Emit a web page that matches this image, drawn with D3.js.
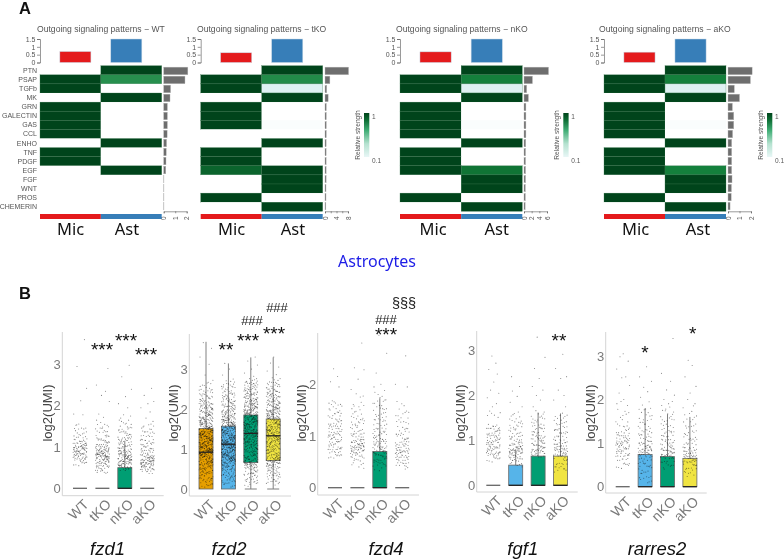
<!DOCTYPE html>
<html>
<head>
<meta charset="utf-8">
<script src="https://d3js.org/d3.v7.min.js"></script>
<style>
  body { margin: 0; background: #fff; }
  svg { display: block; filter: blur(0.3px); }
</style>
</head>
<body>
<svg id="chart" width="784" height="560"></svg>
<script>
// panel A data
var signals = ["PTN","PSAP","TGFb","MK","GRN","GALECTIN","GAS","CCL","ENHO","TNF","PDGF","EGF","FGF","WNT","PROS","CHEMERIN"];
var cellTypes = ["Mic","Ast"];
var conditions = ["WT","tKO","nKO","aKO"];

// relative strength per signal, 0 = nothing drawn
var micWT  = [0,1,1,0,1,1,1,1,0,1,1,0,0,0,0,0];
var astWT  = [1,.78,0,1,0,0,0,0,1,0,0,1,0,0,0,0];
var micTKO = [0,1,1,0,1,1,1,0,0,1,1,.92,0,0,1,0];
var astTKO = [1,.8,.12,1,0,0,.02,0,1,0,0,1,1,1,0,1];
var micNKO = [0,1,1,0,1,1,1,1,0,1,1,1,0,0,1,0];
var astNKO = [1,.85,.12,1,0,0,.02,0,1,0,0,.88,1,1,0,1];
var micAKO = [0,1,1,0,1,1,1,1,0,1,1,1,0,0,1,0];
var astAKO = [1,.85,.12,1,0,0,.02,0,1,0,0,.85,1,1,0,1];

var topWT = [.7,1.5], topTKO = [.62,1.5], topNKO = [.68,1.5], topAKO = [.66,1.5];

var sideWT  = [2.1,1.85,.6,.55,.32,.32,.32,.3,.25,.22,.2,.18,.02,.02,.02,.02];
var sideTKO = [8.2,1.7,.6,1.1,.45,.45,.45,.45,.4,.4,.4,.4,.4,.35,.35,.3];
var sideNKO = [6.4,2.2,.7,1.15,.5,.5,.5,.5,.45,.4,.4,.4,.4,.35,.35,.3];
var sideAKO = [2.1,1.95,.55,1,.38,.5,.5,.4,.32,.32,.32,.32,.35,.3,.28,.18];

var sideTicksWT = [0,1,2], sideTicksTKO = [0,2,4,6,8], sideTicksNKO = [0,2,4,6], sideTicksAKO = [0,1,2];
var sideLabelsWT = [0,1,2], sideLabelsTKO = [0,4,8], sideLabelsNKO = [0,2,4,6], sideLabelsAKO = [0,1,2];
var sideMaxWT = 2, sideMaxTKO = 8, sideMaxNKO = 6, sideMaxAKO = 2;

// panel B data
var genes = ["fzd1","fzd2","fzd4","fgf1","rarres2"];
var q1s = [[0,0,0,0],[0,0,.66,.71],[0,0,0,0],[0,0,0,0],[0,0,0,0]];
var medians = [[0,0,0,0],[.92,1.12,1.39,1.33],[0,0,0,0],[0,0,0,0],[0,0,0,0]];
var q3s = [[0,0,.5,0],[1.51,1.57,1.85,1.75],[0,0,.7,0],[0,.45,.65,.65],[0,.74,.69,.65]];
var whiskers = [[0,0,1.15,0],[3.68,3.14,3.29,3.29],[0,0,1.73,0],[0,.79,1.62,1.6],[0,1.8,1.66,1.6]];

var fzd1WT = [.58,.62,.65,.68,.7,.72,.74,.75,.78,.8,.8,.82,.84,.85,.86,.88,.9,.9,.92,.93,.95,.95,.96,.98,1,1,1.02,1.03,1.05,1.05,1.07,1.1,1.12,1.15,1.18,1.2,1.25,1.3,1.35,1.42,1.48,1.52,1.78,1.8,2.12,2.42,2.95,3.6];
var fzd1TKO = [.4,.42,.45,.48,.5,.52,.55,.56,.58,.6,.62,.63,.65,.66,.68,.7,.7,.72,.73,.75,.75,.76,.78,.78,.8,.8,.8,.82,.82,.83,.85,.85,.86,.88,.88,.9,.9,.92,.93,.95,.95,.98,1,1,1.02,1.05,1.08,1.1,1.12,1.15,1.18,1.2,1.25,1.3,1.35,1.4,1.42,1.5,1.58,1.65,1.72,1.8,2.1,2.25,2.35,2.5,2.9];
var fzd1NKO = [.46,.48,.5,.52,.54,.55,.57,.58,.6,.6,.62,.63,.65,.65,.67,.68,.7,.7,.72,.72,.74,.75,.75,.77,.78,.8,.8,.82,.83,.85,.85,.87,.88,.9,.92,.95,.95,.98,1,1.02,1.05,1.08,1.1,1.12,1.15,1.18,1.2,1.22,1.25,1.28,1.3,1.35,1.38,1.42,1.45,1.5,1.55,1.6,1.65,1.7,1.75,1.78,1.95,2.05,2.22,2.4,2.7,2.98];
var fzd1AKO = [.4,.42,.44,.46,.48,.5,.52,.53,.55,.56,.58,.58,.6,.6,.62,.62,.63,.65,.65,.66,.68,.68,.7,.7,.72,.72,.74,.75,.77,.78,.8,.82,.85,.88,.9,.92,.95,.98,1,1.03,1.05,1.1,1.12,1.15,1.2,1.25,1.28,1.32,1.38,1.42,1.48,1.55,1.62,1.7,1.85,1.95,2.05,2.1,2.25,2.42];

var fzd2WT = [.08,.15,.22,.28,.33,.38,.42,.46,.5,.53,.56,.6,.62,.65,.68,.7,.72,.75,.77,.8,.82,.84,.86,.88,.9,.9,.92,.92,.94,.95,.96,.98,1,1,1.02,1.03,1.05,1.07,1.08,1.1,1.12,1.14,1.15,1.17,1.18,1.2,1.22,1.24,1.25,1.27,1.28,1.3,1.32,1.34,1.35,1.37,1.38,1.4,1.42,1.44,1.45,1.47,1.5,1.52,1.54,1.56,1.58,1.6,1.62,1.65,1.68,1.7,1.72,1.75,1.78,1.8,1.83,1.86,1.9,1.93,1.96,2,2.03,2.07,2.1,2.14,2.18,2.22,2.28,2.35,2.42,2.5,2.62,2.72,2.85,3.12,3.3,3.52,3.66];
var fzd2TKO = [.1,.18,.25,.3,.35,.4,.45,.5,.54,.57,.6,.62,.65,.67,.7,.72,.74,.76,.78,.78,.8,.8,.82,.84,.85,.87,.88,.9,.92,.94,.96,.98,1,1.02,1.03,1.05,1.06,1.08,1.1,1.1,1.12,1.14,1.15,1.16,1.18,1.2,1.22,1.24,1.25,1.27,1.28,1.3,1.32,1.34,1.36,1.38,1.4,1.42,1.44,1.46,1.48,1.5,1.52,1.54,1.56,1.58,1.6,1.62,1.64,1.66,1.68,1.7,1.73,1.76,1.78,1.8,1.83,1.86,1.9,1.93,1.96,2,2.04,2.08,2.12,2.16,2.2,2.25,2.3,2.36,2.42,2.5,2.58,2.66,2.75,2.85,3,3.14];
var fzd2NKO = [.12,.2,.28,.35,.4,.45,.5,.55,.58,.6,.63,.66,.68,.7,.74,.78,.8,.84,.88,.9,.94,.98,1,1.03,1.06,1.1,1.12,1.15,1.18,1.2,1.22,1.25,1.28,1.3,1.32,1.35,1.37,1.38,1.4,1.42,1.45,1.47,1.5,1.52,1.55,1.57,1.6,1.62,1.64,1.66,1.68,1.7,1.72,1.75,1.77,1.8,1.82,1.84,1.86,1.88,1.9,1.92,1.95,1.97,2,2.02,2.05,2.08,2.1,2.12,2.15,2.18,2.2,2.24,2.28,2.3,2.35,2.38,2.42,2.46,2.5,2.55,2.6,2.65,2.7,2.76,2.82,2.9,3,3.1,3.2,3.3];
var fzd2AKO = [.15,.22,.3,.36,.42,.47,.52,.56,.6,.62,.65,.68,.7,.72,.75,.78,.8,.83,.86,.9,.93,.96,1,1.03,1.06,1.09,1.12,1.15,1.18,1.2,1.23,1.25,1.28,1.3,1.32,1.35,1.38,1.4,1.42,1.45,1.47,1.5,1.52,1.55,1.58,1.6,1.62,1.65,1.67,1.7,1.72,1.75,1.78,1.8,1.82,1.85,1.87,1.9,1.92,1.95,1.98,2,2.03,2.06,2.1,2.13,2.16,2.2,2.24,2.28,2.32,2.36,2.4,2.45,2.5,2.56,2.62,2.7,2.78,2.86,2.95,3.05,3.15,3.3];

var fzd4WT = [.6,.62,.65,.67,.7,.72,.75,.78,.8,.82,.85,.87,.9,.92,.95,.97,1,1,1.02,1.05,1.07,1.1,1.12,1.15,1.18,1.2,1.22,1.25,1.28,1.3,1.35,1.4,1.42,1.48,1.52,1.58,1.62,1.65,1.95,2.05,2.15,2.3];
var fzd4TKO = [.42,.48,.52,.56,.6,.62,.65,.67,.68,.7,.72,.73,.75,.76,.78,.78,.8,.8,.82,.83,.85,.85,.87,.88,.9,.92,.95,.98,1,1.02,1.05,1.08,1.12,1.16,1.2,1.24,1.28,1.32,1.36,1.42,1.48,1.55,1.62,1.78,1.9,2.1,2.28,2.32,2.8];
var fzd4NKO = [.38,.42,.46,.5,.52,.55,.57,.6,.62,.64,.66,.68,.7,.72,.74,.76,.78,.8,.82,.84,.86,.88,.9,.92,.95,.97,1,1.03,1.06,1.1,1.13,1.16,1.2,1.24,1.28,1.32,1.36,1.4,1.45,1.5,1.55,1.6,1.66,1.72,1.8,1.88,1.95,2,2.22,2.6,2.95];
var fzd4AKO = [.4,.44,.47,.5,.52,.55,.57,.6,.62,.64,.66,.68,.7,.7,.72,.74,.76,.78,.8,.82,.85,.88,.9,.93,.96,1,1.04,1.08,1.12,1.18,1.24,1.3,1.36,1.42,1.5,1.62,1.95,2,2.55];

var fgf1WT = [.55,.6,.63,.66,.68,.7,.72,.74,.76,.78,.8,.82,.84,.86,.88,.9,.92,.94,.96,.98,1,1.02,1.05,1.07,1.1,1.12,1.15,1.18,1.2,1.22,1.25,1.28,1.3,1.33,1.55,1.62,1.75,1.82,1.95,2.05,2.12,2.3,2.48,2.58,2.72,2.88];
var fgf1TKO = [.46,.5,.54,.57,.6,.62,.64,.66,.68,.7,.72,.74,.75,.76,.78,.78,.8,.8,.82,.84,.85,.86,.88,.9,.92,.95,.98,1,1.03,1.06,1.1,1.14,1.18,1.22,1.26,1.3,1.35,1.4,1.45,1.52,1.6,1.75,1.85,1.98,2.1,2.2,2.42];
var fgf1NKO = [.66,.68,.7,.72,.74,.76,.78,.8,.82,.84,.86,.88,.9,.92,.95,.98,1,1.02,1.05,1.08,1.1,1.13,1.16,1.2,1.24,1.28,1.32,1.36,1.4,1.45,1.5,1.55,1.62,1.75,1.9,2,2.12,2.2,2.38,2.6,2.85,3.3];
var fgf1AKO = [.32,.38,.42,.46,.5,.55,.6,.66,.68,.7,.72,.74,.76,.78,.8,.82,.84,.86,.88,.9,.93,.96,1,1.03,1.06,1.1,1.14,1.18,1.22,1.26,1.3,1.35,1.4,1.46,1.52,1.58,1.75,1.9,2,2.12,2.38,2.42,2.6,2.92];

var rarres2WT = [.45,.5,.55,.6,.65,.68,.72,.75,.78,.8,.82,.85,.88,.9,.92,.95,.97,1,1,1.02,1.05,1.07,1.1,1.12,1.15,1.18,1.22,1.26,1.3,1.35,1.42,1.5,1.62,1.75,1.9,2,2.15,2.32,2.5,2.52,2.7,2.88,2.98,3.05];
var rarres2TKO = [.12,.18,.25,.3,.36,.42,.48,.52,.56,.6,.64,.68,.72,.74,.76,.78,.8,.82,.84,.86,.88,.9,.92,.95,.98,1,1.03,1.06,1.1,1.14,1.18,1.22,1.27,1.32,1.38,1.44,1.5,1.58,1.66,1.75,1.82,1.95,2.05,2.18,2.28,2.42,2.52,2.75];
var rarres2NKO = [.45,.5,.55,.6,.64,.68,.7,.72,.74,.76,.78,.8,.82,.84,.86,.88,.9,.93,.96,1,1.03,1.06,1.1,1.14,1.18,1.22,1.27,1.32,1.38,1.44,1.5,1.56,1.62,1.7,1.8,1.9,2,2.1,2.22,2.42,2.6,3.4];
var rarres2AKO = [.28,.34,.4,.44,.48,.52,.55,.58,.6,.62,.64,.66,.68,.7,.72,.74,.76,.78,.8,.82,.85,.88,.92,.96,1,1.05,1.1,1.16,1.22,1.28,1.35,1.42,1.5,1.58,1.7,1.85,2,2.15,2.3,2.52,2.78,2.9];

// one list of groups per gene
var genePoints = [
  [fzd1WT, fzd1TKO, fzd1NKO, fzd1AKO],
  [fzd2WT, fzd2TKO, fzd2NKO, fzd2AKO],
  [fzd4WT, fzd4TKO, fzd4NKO, fzd4AKO],
  [fgf1WT, fgf1TKO, fgf1NKO, fgf1AKO],
  [rarres2WT, rarres2TKO, rarres2NKO, rarres2AKO]
];
var yTicks = [[0,1,2,3],[0,1,2,3],[0,1,2],[0,1,2,3],[0,1,2,3]];

// layout, panel A
var heatLeft = [40, 200.7, 400, 604];
var heatRight = [161.7, 322.7, 522.3, 726];
var titleLeft = [37, 197, 396, 599];
var sideLeft = [163.7, 325, 524, 728];
var legendLeft = [null, 364, 563.3, 767];
var micLabelX = [70.5, 231.7, 433, 635.7];
var astLabelX = [127, 293, 496.7, 698];
var heatTop = 65.7, heatBottom = 211.3, topBase = 62.5, topMaxY = 39;

// layout, panel B
var plotAxisX = [62.3, 189.3, 317.7, 476.7, 605.7];
var plotRight = [163.7, 291, 419, 577.7, 706.7];
var plotTop = [332, 334, 333, 331, 332];
var plotBottom = [495.7, 496, 495, 492, 493];
var zeroY = [488.3, 489, 487.7, 485.3, 486.7];
var unitPx = [41.3, 40, 51.7, 44.9, 43.6];
var firstCenter = [80, 206, 335, 493.3, 622.7];
var yLabelX = [47, 173, 301.7, 460, 590];
var geneLabelX = [107.5, 229, 386, 522.8, 657];

// sideways spread of the cloud, px (no data in these)
var jitterX = [-4.1,5.8,-1.2,2.9,-6.3,0.7,6.6,-3.0,4.4,-5.2,1.9,-0.4,5.1,-6.8,3.5,-2.2,0.2,6.1,-4.9,2.3,-1.7,4.8,-5.8,1.1,-3.6,6.9,-0.9,3.1,-6.0,5.5,-2.7,0.5,4.0,-4.5,2.6,-1.4,6.4,-5.5,1.5,-3.3,3.8];
var jitterY = [0.4,-1.9,1.3,-0.6,2.2,-1.2,0.9,-2.4,1.7,-0.2,2.6,-1.5,0.1,-2.1,1.1,-0.8,2.0,-1.7,0.6];
// a read value in the dense cloud stands for a small clump of cells,
// above tailStart the dots can be told apart so they stay single
var clumpSize = [3,6,3,3,3];
var tailStart = [1.6,2.7,1.8,1.7,1.9];

// significance marks: [text, x, y of the mark centre]
var stars = [["***",102,347],["***",126,338],["***",146,352],["**",226,347],["***",248,338],["***",274,331],
  ["***",386,332],["**",559,338],["*",645,350],["*",692.7,331]];
var hashes = [["###",252,320],["###",277,307],["###",386,319]];
var sections = [["§§§",404,302]];

var groupColors = ["#E69F00","#56B4E9","#009E73","#F0E442"];
var cellColors = ["#E41A1C","#377EB8"];

var svg = d3.select("#chart");
var sansFont = "'Liberation Sans', Arial, sans-serif";

var strength = d3.scaleLinear()
  .domain([0, .12, .55, .85, 1])
  .range(["#ffffff", "#dff1f3", "#66c28a", "#14803c", "#00441b"]);

var panels = [
  {mic: micWT, ast: astWT, top: topWT, side: sideWT, ticks: sideTicksWT, labels: sideLabelsWT, max: sideMaxWT},
  {mic: micTKO, ast: astTKO, top: topTKO, side: sideTKO, ticks: sideTicksTKO, labels: sideLabelsTKO, max: sideMaxTKO},
  {mic: micNKO, ast: astNKO, top: topNKO, side: sideNKO, ticks: sideTicksNKO, labels: sideLabelsNKO, max: sideMaxNKO},
  {mic: micAKO, ast: astAKO, top: topAKO, side: sideAKO, ticks: sideTicksAKO, labels: sideLabelsAKO, max: sideMaxAKO}
];

// legend gradient
var grad = svg.append("defs").append("linearGradient")
  .attr("id", "strengthGrad").attr("x1", 0).attr("y1", 1).attr("x2", 0).attr("y2", 0);
[[0,"#e8f6f6"],[.3,"#b5e2d0"],[.6,"#41ae76"],[.85,"#0b6b32"],[1,"#00441b"]].forEach(function(s) {
  grad.append("stop").attr("offset", s[0]).attr("stop-color", s[1]);
});

panels.forEach(function(p, i) {
  var g = svg.append("g").attr("class", "panel");

  var col = d3.scaleBand().domain(cellTypes).range([heatLeft[i], heatRight[i]]);
  var row = d3.scaleBand().domain(signals).range([heatTop, heatBottom]);

  g.append("text").attr("x", titleLeft[i]).attr("y", 32)
    .style("font", "8.6px " + sansFont).style("fill", "#555")
    .text("Outgoing signaling patterns \u2212 " + conditions[i]);

  // heat cells
  [p.mic, p.ast].forEach(function(values, c) {
    g.selectAll(".cell" + c).data(values).enter().append("rect")
      .attr("class", "cell" + c)
      .attr("x", col(cellTypes[c]))
      .attr("y", function(d, r) { return row(signals[r]); })
      .attr("width", col.bandwidth())
      .attr("height", row.bandwidth())
      .attr("fill", function(d) { return strength(d); })
      .attr("stroke", function(d) { return d > 0.05 ? "#3f7a55" : "none"; })
      .attr("stroke-width", 0.3);
  });

  // top bars
  var topY = d3.scaleLinear().domain([0, 1.5]).range([topBase, topMaxY]);
  var topX = d3.scaleBand().domain(cellTypes).range([heatLeft[i], heatRight[i]]).padding(.39);
  g.selectAll(".topbar").data(p.top).enter().append("rect")
    .attr("class", "topbar")
    .attr("x", function(d, c) { return topX(cellTypes[c]); })
    .attr("y", function(d) { return topY(d); })
    .attr("width", topX.bandwidth())
    .attr("height", function(d) { return topBase - topY(d); })
    .attr("fill", function(d, c) { return cellColors[c]; })
    .attr("stroke", "#c9d9e6").attr("stroke-width", .5);
  var topAxis = g.append("g").attr("transform", "translate(" + heatLeft[i] + ",0)")
    .call(d3.axisLeft(topY).tickValues([0,.5,1,1.5]).tickSize(3).tickPadding(1.5).tickFormat(d3.format("~g")));
  topAxis.selectAll("text").style("font", "7px " + sansFont).style("fill", "#555");
  topAxis.selectAll("line,path").attr("stroke", "#555").attr("stroke-width", .6);

  // side bars
  var sideRow = d3.scaleBand().domain(signals).range([heatTop, heatBottom]).padding(.16);
  var sideX = d3.scaleLinear().domain([0, p.max]).range([sideLeft[i], sideLeft[i] + 23]);
  g.selectAll(".sidebar").data(p.side).enter().append("rect")
    .attr("class", "sidebar")
    .attr("x", sideX(0))
    .attr("y", function(d, r) { return sideRow(signals[r]); })
    .attr("width", function(d) { return sideX(d) - sideX(0); })
    .attr("height", sideRow.bandwidth())
    .attr("fill", "#6e6e6e").attr("stroke", "#bbb").attr("stroke-width", .4);
  var sideAxis = g.append("g").attr("transform", "translate(0," + heatBottom + ")")
    .call(d3.axisBottom(sideX).tickValues(p.ticks).tickSize(2).tickPadding(1)
      .tickFormat(function(d) { return p.labels.indexOf(d) >= 0 ? d : ""; }));
  sideAxis.selectAll("text")
    .attr("transform", "rotate(-90)")
    .attr("x", -5).attr("y", 0).attr("dy", ".35em")
    .style("text-anchor", "end")
    .style("font", "6.5px " + sansFont).style("fill", "#555");
  sideAxis.selectAll("line,path").attr("stroke", "#555").attr("stroke-width", .6);

  // bottom annotation strip
  g.selectAll(".strip").data(cellTypes).enter().append("rect")
    .attr("class", "strip")
    .attr("x", function(d) { return col(d); })
    .attr("y", 214).attr("width", col.bandwidth()).attr("height", 5)
    .attr("fill", function(d, c) { return cellColors[c]; });

  [micLabelX[i], astLabelX[i]].forEach(function(x, c) {
    g.append("text").attr("x", x).attr("y", 235).attr("text-anchor", "middle")
      .style("font", "16.5px 'Noto Sans', sans-serif").style("fill", "#111")
      .text(cellTypes[c]);
  });

  // signal names only on the first panel
  if (i == 0) {
    g.selectAll(".signal").data(signals).enter().append("text")
      .attr("class", "signal")
      .attr("x", 37)
      .attr("y", function(d) { return row(d) + row.bandwidth() / 2; })
      .attr("dy", ".35em").attr("text-anchor", "end")
      .style("font", "7px " + sansFont).style("fill", "#555")
      .text(function(d) { return d; });
  }

  // legend
  if (legendLeft[i] != null) {
    var lx = legendLeft[i];
    g.append("rect").attr("x", lx).attr("y", 113).attr("width", 5.3).attr("height", 44)
      .attr("fill", "url(#strengthGrad)");
    g.append("text").attr("x", lx + 8).attr("y", 118.5)
      .style("font", "6.5px " + sansFont).style("fill", "#555").text("1");
    g.append("text").attr("x", lx + 8).attr("y", 163)
      .style("font", "6.5px " + sansFont).style("fill", "#555").text("0.1");
    g.append("text").attr("transform", "translate(" + (lx - 4) + ",135) rotate(-90)")
      .attr("text-anchor", "middle")
      .style("font", "6.6px " + sansFont).style("fill", "#555").text("Relative strength");
  }
});

// panel letters and centre heading
svg.append("text").attr("x", 19).attr("y", 14).style("font", "bold 16.5px " + sansFont).style("fill", "#111").text("A");
svg.append("text").attr("x", 19).attr("y", 299).style("font", "bold 16.5px " + sansFont).style("fill", "#111").text("B");
svg.append("text").attr("x", 377).attr("y", 267).attr("text-anchor", "middle")
  .style("font", "16px 'Noto Sans', sans-serif").style("fill", "#1c1ce6").text("Astrocytes");

// box plots
genes.forEach(function(gene, i) {
  var g = svg.append("g").attr("class", "gene");
  var y = d3.scaleLinear().domain([0, 1]).range([zeroY[i], zeroY[i] - unitPx[i]]);
  var x = d3.scalePoint().domain(conditions)
    .range([firstCenter[i], firstCenter[i] + 67.2]);

  // frame: left and bottom only
  g.append("path")
    .attr("d", "M" + plotAxisX[i] + "," + plotTop[i] + "V" + plotBottom[i] + "H" + plotRight[i])
    .attr("fill", "none").attr("stroke", "#d4d4d4").attr("stroke-width", 1);

  var yAxis = g.append("g").attr("transform", "translate(" + plotAxisX[i] + ",0)")
    .call(d3.axisLeft(y).tickValues(yTicks[i]).tickSize(0).tickPadding(1.5).tickFormat(d3.format("d")));
  yAxis.select("path").remove();
  yAxis.selectAll("text").style("font", "13px " + sansFont).style("fill", "#7a7a7a");

  g.append("text")
    .attr("transform", "translate(" + yLabelX[i] + ",413) rotate(-90)")
    .attr("dy", ".35em").attr("text-anchor", "middle")
    .style("font", "13px " + sansFont).style("fill", "#444")
    .text("log2(UMI)");

  var dotIndex = 0;
  conditions.forEach(function(cond, c) {
    var cx = x(cond);
    // whisker
    g.append("line").attr("x1", cx).attr("x2", cx)
      .attr("y1", y(q1s[i][c])).attr("y2", y(whiskers[i][c]))
      .attr("stroke", "#808080").attr("stroke-width", 1);
    if (q1s[i][c] > 0) {
      g.append("line").attr("x1", cx).attr("x2", cx)
        .attr("y1", y(q1s[i][c])).attr("y2", y(0))
        .attr("stroke", "#808080").attr("stroke-width", 1);
      g.append("line").attr("x1", cx - 6).attr("x2", cx + 6)
        .attr("y1", y(0)).attr("y2", y(0))
        .attr("stroke", "#808080").attr("stroke-width", 1);
    }
    // box
    if (q3s[i][c] > 0) {
      g.append("rect")
        .attr("x", cx - 7).attr("width", 14)
        .attr("y", y(q3s[i][c])).attr("height", y(q1s[i][c]) - y(q3s[i][c]))
        .attr("fill", groupColors[c]).attr("stroke", "#666").attr("stroke-width", .8);
    }
    // dots
    var dots = [];
    genePoints[i][c].forEach(function(v) {
      var n = v > tailStart[i] ? 1 : clumpSize[i];
      for (var k = 0; k < n; k++) {
        dots.push({v: v, dx: jitterX[dotIndex % jitterX.length], dy: n > 1 ? jitterY[dotIndex % jitterY.length] : 0});
        dotIndex++;
      }
    });
    g.selectAll(".pt" + c).data(dots).enter().append("circle")
      .attr("class", "pt" + c)
      .attr("cx", function(d) { return cx + d.dx; })
      .attr("cy", function(d) { return y(d.v) + d.dy; })
      .attr("r", .55)
      .attr("fill", "#111").attr("fill-opacity", .5);
    // median
    g.append("line").attr("x1", cx - 7).attr("x2", cx + 7)
      .attr("y1", y(medians[i][c])).attr("y2", y(medians[i][c]))
      .attr("stroke", medians[i][c] > 0 || q3s[i][c] > 0 ? "#222" : "#666").attr("stroke-width", 1.3);
  });

  // category labels
  g.selectAll(".cat").data(conditions).enter().append("text")
    .attr("class", "cat")
    .attr("transform", function(d) { return "translate(" + (x(d) + 6) + "," + (plotBottom[i] + 6) + ") rotate(-45)"; })
    .attr("dy", ".35em").attr("text-anchor", "end")
    .style("font", "14px " + sansFont).style("fill", "#7a7a7a")
    .text(function(d) { return d; });

  g.append("text").attr("x", geneLabelX[i]).attr("y", 555).attr("text-anchor", "middle")
    .style("font", "italic 18.5px " + sansFont).style("fill", "#111").text(gene);
});

// significance marks
svg.selectAll(".star").data(stars).enter().append("text")
  .attr("class", "star").attr("x", function(d) { return d[1]; }).attr("y", function(d) { return d[2] + 8.5; })
  .attr("text-anchor", "middle").style("font", "19px " + sansFont).style("fill", "#111")
  .text(function(d) { return d[0]; });
svg.selectAll(".hash").data(hashes).enter().append("text")
  .attr("class", "hash").attr("x", function(d) { return d[1]; }).attr("y", function(d) { return d[2] + 4.5; })
  .attr("text-anchor", "middle").style("font", "13px " + sansFont).style("fill", "#222")
  .text(function(d) { return d[0]; });
svg.selectAll(".section").data(sections).enter().append("text")
  .attr("class", "section").attr("x", function(d) { return d[1]; }).attr("y", function(d) { return d[2] + 6; })
  .attr("text-anchor", "middle").style("font", "14.5px " + sansFont).style("fill", "#222")
  .text(function(d) { return d[0]; });
</script>
</body>
</html>
